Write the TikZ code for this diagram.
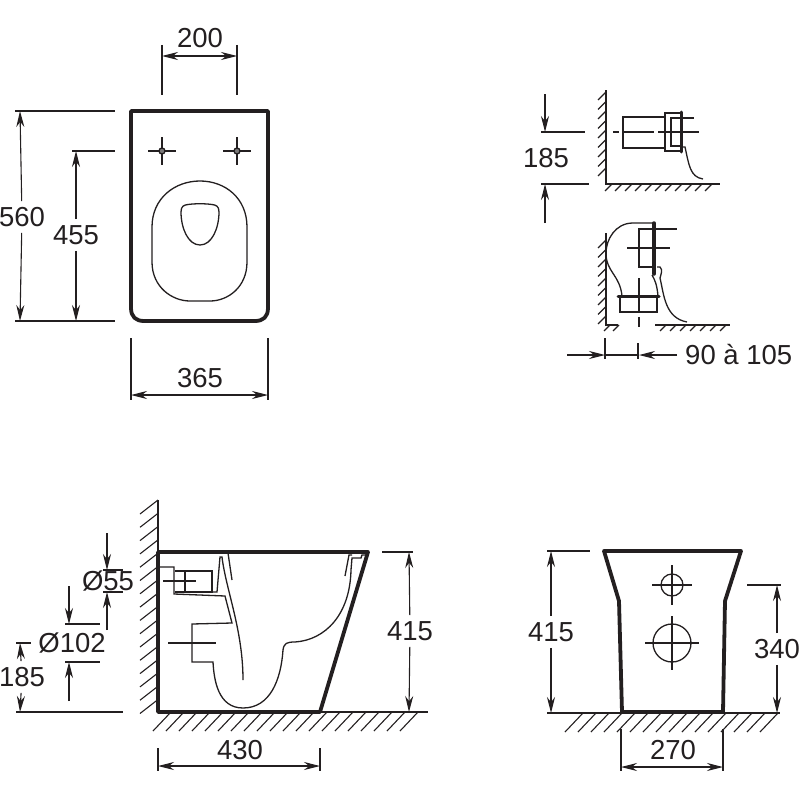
\documentclass[tikz,border=0pt]{standalone}
\usepackage{fontspec}
\setmainfont{Liberation Sans}
\usetikzlibrary{arrows.meta}
\definecolor{ink}{HTML}{231F20}
\tikzset{
	outline/.style={draw=ink, line width=3.8pt, line join=round, line cap=round},
	thinline/.style={draw=ink, line width=1.3pt},
	ground/.style={draw=ink, line width=1.4pt},
	hatch/.style={draw=ink, line width=1.1pt},
	centreline/.style={draw=ink, line width=1.8pt},
	dimline/.style={draw=ink, line width=1.1pt},
	dimarrow/.style={dimline, -{Stealth[length=16pt,width=8pt]}},
	dimtext/.style={text=ink, font=\fontsize{27.5}{27.5}\selectfont, inner xsep=2pt, inner ysep=6pt}
}
\begin{document}
\begin{tikzpicture}[x=1pt,y=-1pt]

	\useasboundingbox (0,0) rectangle (800,800);

	% seat seen from above
	\draw[outline] (131,111) -- (268,111) -- (268,308) .. controls (268,317) and (263,321) .. (255,321) -- (144,321) .. controls (136,321) and (131,317) .. (131,308) -- cycle;
	\draw[thinline] (152,227) .. controls (152,198) and (175,181) .. (200,181) .. controls (225,181) and (247,198) .. (247,227) -- (247,262) .. controls (247,287) and (228,301) .. (210,301) -- (190,301) .. controls (172,301) and (152,287) .. (152,262) -- cycle;
	\draw[thinline] (181,212) .. controls (181,206) and (184,205) .. (188,204.5) .. controls (195,203.5) and (205,203.5) .. (212,204.5) .. controls (216,205) and (219,206) .. (219,212) .. controls (219,228) and (212,245) .. (200,245) .. controls (188,245) and (181,228) .. (181,212) -- cycle;
	\foreach \x in {162,237}{
		\draw[thinline] (\x-14,151) -- (\x+14,151);
		\draw[thinline] (\x,137) -- (\x,165);
		\draw[thinline, fill=ink!60] (\x,151) circle(3);
	}

	\node[dimtext] (lab200) at (200,38) {200};
	\draw[dimline] (162,45) -- (162,95);
	\draw[dimline] (237,45) -- (237,95);
	\draw[dimarrow] (200,56) -- (162,56);
	\draw[dimarrow] (200,56) -- (237,56);

	\node[dimtext] (lab560) at (22,217) {560};
	\draw[dimline] (15,111) -- (115,111);
	\draw[dimline] (15,321) -- (115,321);
	\draw[dimarrow] (lab560) -- (20,111);
	\draw[dimarrow] (lab560) -- (20,321);

	\node[dimtext] (lab455) at (76,235) {455};
	\draw[dimline] (72,151) -- (115,151);
	\draw[dimline] (72,321) -- (115,321);
	\draw[dimarrow] (lab455) -- (76,151);
	\draw[dimarrow] (lab455) -- (76,321);

	\node[dimtext] (lab365) at (200,378) {365};
	\draw[dimline] (131,338) -- (131,400);
	\draw[dimline] (268,338) -- (268,400);
	\draw[dimarrow] (200,395) -- (131,395);
	\draw[dimarrow] (200,395) -- (268,395);

	% fixing seen from the side, upper detail
	\draw[ground] (606,90) -- (606,184) -- (720,184);
	\foreach \y in {92,101.5,...,175}
		\draw[hatch] (606,\y) -- ++(-8,8);
	\foreach \x in {612,622,...,720}
		\draw[hatch] (\x,184) -- ++(-7,7);
	\draw[thinline] (665,117) -- (623,117) -- (623,148) -- (665,148);
	\draw[thinline] (680,113) -- (665,113) -- (665,151) -- (680,151);
	\draw[thinline] (681,118) -- (671,118) -- (671,146) -- (681,146);
	\draw[thinline] (681,118) -- (694,118);
	\draw[draw=ink, line width=3pt, line cap=round] (681,112) -- (681,152);
	\draw[centreline] (613,132) -- (619,132);
	\draw[centreline] (623,132) -- (654,132);
	\draw[centreline] (658,132) -- (699,132);
	\draw[thinline] (681,147) -- (685,147) .. controls (689,165) and (690,177) .. (703,179);

	\node[dimtext] (lab185a) at (546,158) {185};
	\draw[dimline] (541,132) -- (585,132);
	\draw[dimline] (541,184) -- (589,184);
	\draw[dimarrow] (545,94) -- (545,132);
	\draw[dimarrow] (545,223) -- (545,184);

	% fixing seen from the side, lower detail
	\draw[ground] (606,233) -- (606,325) -- (618,325);
	\draw[ground] (655,325) -- (730,325);
	\foreach \y in {240,249.5,...,320}
		\draw[hatch] (606,\y) -- ++(-8,8);
	\foreach \x in {610,619}
		\draw[hatch] (\x,325) -- ++(-6,6);
	\foreach \x in {666,676,...,730}
		\draw[hatch] (\x,325) -- ++(-6,6);
	\draw[thinline] (653,223) -- (633,223) .. controls (615,223) and (606,240) .. (606,253) .. controls (606,272) and (620,275) .. (622,296);
	\draw[thinline] (652,275) .. controls (655,280) and (657,285) .. (658,296);
	\draw[thinline] (654,229) -- (639,229) -- (639,267) -- (654,267);
	\draw[thinline] (654,229) -- (677,229);
	\draw[draw=ink, line width=3.5pt, line cap=round] (654,223) -- (654,274);
	\draw[draw=ink, line width=3pt, line cap=round] (618,296) -- (659,296);
	\draw[thinline] (620,296) -- (620,312) -- (657,312) -- (657,296);
	\draw[centreline] (627,248) -- (670,248);
	\draw[centreline] (639,278) -- (639,313);
	\draw[centreline] (639,317) -- (639,327);
	\draw[thinline] (657,267) -- (660,267) .. controls (663,270) and (661,274) .. (660,278) .. controls (664,295) and (665,318) .. (687,322);

	\node[dimtext, anchor=west] (lab90) at (683,355) {90 à 105};
	\draw[dimline] (605,338) -- (605,359);
	\draw[dimline] (638,343) -- (638,359);
	\draw[dimline] (605,355) -- (638,355);
	\draw[dimarrow] (567,355) -- (605,355);
	\draw[dimarrow] (677,355) -- (639,355);

	% section through the bowl
	\draw[ground] (158,500) -- (158,712) -- (428,712);
	\foreach \y in {500,513.3,...,700}
		\draw[hatch] (158,\y) -- ++(-18,14);
	\foreach \x in {171,184,...,428}
		\draw[hatch] (\x,712) -- ++(-18,19);
	\draw[outline] (158,552) -- (368,552) -- (320,712) -- (158,712) -- cycle;

	\draw[thinline] (158,567) -- (174,567) -- (174,594) -- (225,596) -- (232,623) -- (192,624) -- (192,662) -- (213,662) .. controls (214,680) and (218,708) .. (243,708) .. controls (270,708) and (281,680) .. (283,650) .. controls (284,643) and (287,642) .. (295,642) .. controls (325,640) and (350,615) .. (351,570) -- (352,558) -- (361,558) -- (362,555) -- (367,555);
	\draw[thinline] (175,571) -- (212,571) -- (212,592) -- (175,592);
	\draw[thinline] (185,571) -- (185,592);
	\draw[thinline] (163,581) -- (196,581);
	\draw[thinline] (212,592) -- (217,592) -- (220,557) -- (222,557) .. controls (226,590) and (243,630) .. (243,680);
	\draw[thinline] (228,553) -- (232,580);
	\draw[thinline] (345,576) -- (349,555) -- (352,555);
	\draw[thinline] (168,643) -- (216,643);

	\node[dimtext] (lab415a) at (410,631) {415};
	\draw[dimline] (382,552) -- (413,552);
	\draw[dimarrow] (lab415a) -- (409,552);
	\draw[dimarrow] (lab415a) -- (409,712);

	\node[dimtext] (lab430) at (240,750) {430};
	\draw[dimline] (158,748) -- (158,771);
	\draw[dimline] (320,748) -- (320,771);
	\draw[dimarrow] (240,766) -- (158,766);
	\draw[dimarrow] (240,766) -- (320,766);

	\node[dimtext] (lab55) at (108,581) {Ø55};
	\draw[dimline] (103,570) -- (123,570);
	\draw[dimline] (103,592) -- (123,592);
	\draw[dimarrow] (107,533) -- (107,570);
	\draw[dimarrow] (107,630) -- (107,592);

	\node[dimtext] (lab102) at (72,643) {Ø102};
	\draw[dimline] (65,624) -- (100,624);
	\draw[dimline] (65,662) -- (100,662);
	\draw[dimarrow] (69,586) -- (69,624);
	\draw[dimarrow] (69,701) -- (69,662);

	\node[dimtext] (lab185b) at (22,677) {185};
	\draw[dimline] (16,643) -- (31,643);
	\draw[dimline] (16,712) -- (123,712);
	\draw[dimarrow] (lab185b) -- (20,643);
	\draw[dimarrow] (lab185b) -- (20,712);

	% front view
	\draw[ground] (547,713) -- (780,713);
	\foreach \x in {583,596,...,780}
		\draw[hatch] (\x,713) -- ++(-18,19);
	\draw[outline] (604,551) -- (741,551) -- (725,601) -- (723,712) -- (622,712) -- (619,601) -- cycle;
	\draw[thinline] (672,585) circle(11);
	\draw[thinline] (652,585) -- (692,585);
	\draw[thinline] (672,565) -- (672,605);
	\draw[thinline] (672,643) circle(19);
	\draw[thinline] (645,643) -- (699,643);
	\draw[thinline] (672,616) -- (672,670);

	\node[dimtext] (lab415b) at (551,632) {415};
	\draw[dimline] (547,551) -- (590,551);
	\draw[dimarrow] (lab415b) -- (551,551);
	\draw[dimarrow] (lab415b) -- (551,713);

	\node[dimtext] (lab340) at (777,649) {340};
	\draw[dimline] (747,585) -- (781,585);
	\draw[dimarrow] (lab340) -- (777,585);
	\draw[dimarrow] (lab340) -- (777,713);

	\node[dimtext] (lab270) at (673,750) {270};
	\draw[dimline] (621,729) -- (621,771);
	\draw[dimline] (723,729) -- (723,771);
	\draw[dimarrow] (673,767) -- (621,767);
	\draw[dimarrow] (673,767) -- (723,767);

\end{tikzpicture}
\end{document}
